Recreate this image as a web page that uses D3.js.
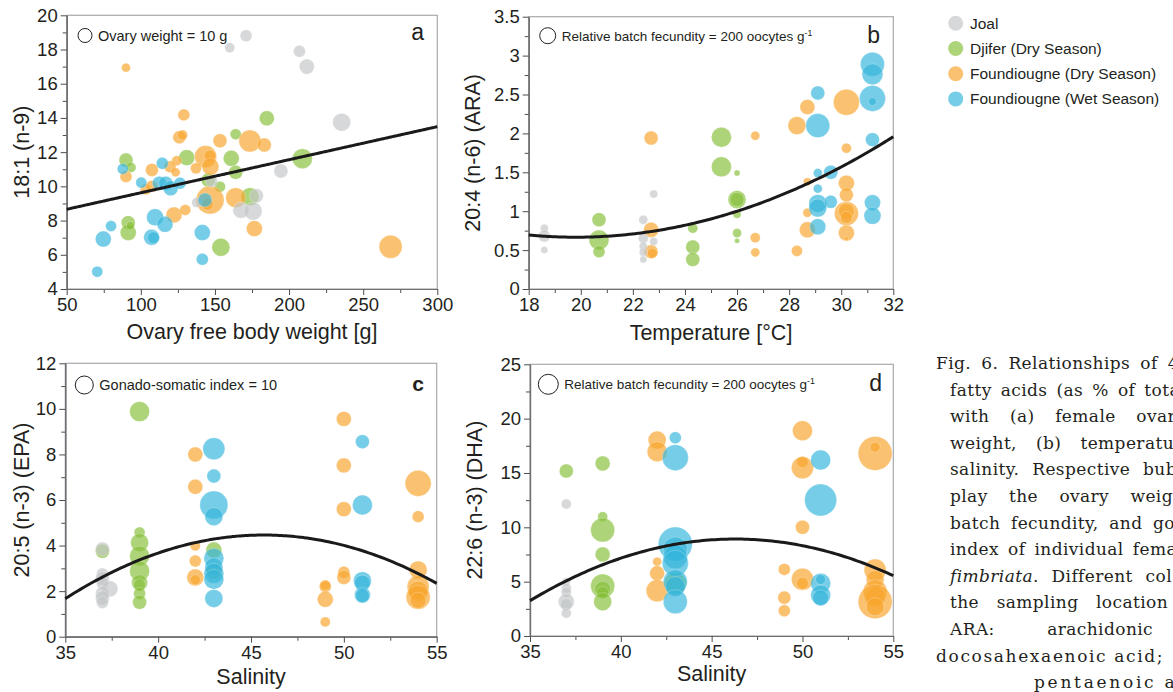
<!DOCTYPE html>
<html><head><meta charset="utf-8">
<script src="https://cdn.jsdelivr.net/npm/d3@7"></script>
<style>body{margin:0;background:#fff}svg{display:block}</style>
</head><body>
<svg id="chart" width="1173" height="692"></svg>
<script>
// ---------------- DATA ----------------
const groups = ["Joal", "Djifer (Dry Season)", "Foundiougne (Dry Season)", "Foundiougne (Wet Season)"];
const groupColors = ["#c3c5c7", "#86c03a", "#f8a52c", "#35b6dc"];
const drawOrder = [1, 2, 0, 3];

// Panel a: [ovary free body weight g, 18:1(n-9) %, ovary weight g]
const aJoal = [[171,18.8,7.3],[160,18.1,5.1],[207,17.9,7.3],[212,17.0,11.5],[235.5,13.75,16.5],[194.5,10.9,10],[137.7,9.05,5.1],[178,9.45,10],[167.5,8.6,13],[175.7,8.55,16.5],[147.8,10.3,7.3]];
const aDjifer = [[185,13.98,11.5],[164,13.05,6.2],[131,11.68,13],[161,11.64,13],[209,11.62,20.4],[164,10.82,10],[90,11.54,10],[93.4,11.1,5.1],[145.5,10.37,10],[153.4,9.98,6.2],[173.6,9.4,16.5],[91.5,7.88,10],[91.5,7.3,13],[93,7.7,3.3],[154,6.44,16.5]];
const aFdDry = [[90,16.94,4.1],[129,14.18,7.3],[126,12.87,8.6],[128.2,13.0,5.1],[153.4,12.67,10],[173.6,12.65,24.7],[183.3,12.42,10],[143.7,11.74,24.7],[146.7,11.78,7.3],[147,11.15,14.7],[124.2,11.5,5.1],[119.7,11.15,7.3],[123.5,10.82,4.1],[137.2,11.06,6.2],[107.5,10.96,8.6],[90,10.57,7.3],[103.3,9.83,6.2],[107.3,10.0,7.3],[146.7,9.2,40],[145,8.95,7.3],[164,9.34,20.4],[122.4,8.33,13],[130,8.62,6.2],[176.6,7.53,13],[268.5,6.47,27]];
const aFdWet = [[87.8,11.02,6.2],[114.5,11.35,7.3],[100.3,10.22,6.2],[112.5,10.18,10],[116.8,10.18,10],[120.1,9.89,11.5],[126.4,10.18,7.3],[143.3,9.2,10],[109.6,8.19,14.7],[116.3,7.78,13],[79.9,7.68,6.2],[74.7,6.92,13],[107.3,7.02,13],[108.5,7.0,7.3],[141.5,7.3,13],[141.5,5.74,7.3],[70.6,5.01,6.2]];

// Panel b: [temperature °C, 20:4(n-6) %, relative batch fecundity]
const bJoal = [[18.6,0.78,50],[18.6,0.68,113],[18.6,0.5,38],[22.4,0.89,63],[22.8,1.22,50],[22.4,0.65,78],[22.4,0.55,50],[22.4,0.47,50],[22.4,0.38,38],[22.8,0.61,50]];
const bDjifer = [[20.7,0.89,153],[20.7,0.63,313],[20.7,0.48,113],[24.3,0.78,78],[24.3,0.54,153],[24.3,0.38,153],[25.4,1.95,313],[25.4,1.57,313],[26.0,1.49,28],[26.0,1.15,253],[26.0,1.15,153],[26.0,0.96,50],[26.0,0.72,63],[26.0,0.62,20]];
const bFdDry = [[22.7,1.94,153],[22.7,0.76,176],[22.7,0.48,153],[22.75,0.46,78],[26.7,1.97,63],[26.7,0.66,78],[26.7,0.47,63],[28.3,2.1,253],[28.7,2.34,176],[28.7,1.38,50],[28.7,0.98,63],[28.7,0.76,200],[28.3,0.49,95],[30.2,2.40,528],[30.2,1.81,78],[30.2,1.36,200],[30.2,1.21,153],[30.2,0.97,450],[30.2,1.0,200],[30.2,0.92,113],[30.2,0.72,200],[30.2,0.65,12]];
const bFdWet = [[29.1,2.52,153],[29.1,2.10,450],[29.1,1.49,63],[29.6,1.50,153],[29.1,1.29,63],[29.1,1.10,253],[29.1,1.04,253],[29.6,1.12,132],[29.1,0.80,200],[31.2,2.89,450],[31.2,2.76,345],[31.2,2.45,528],[31.2,2.41,50],[31.2,1.92,153],[31.2,1.11,200],[31.2,0.94,226]];

// Panel c: [salinity, 20:5(n-3) %, gonado-somatic index]
const cJoal = [[37,3.85,6.0],[37,2.75,4.4],[37,2.55,6.0],[37,2.35,4.4],[37.4,2.1,7.9],[37,1.9,6.0],[37,1.7,6.0],[37,1.5,4.4]];
const cDjifer = [[37,3.75,6.0],[39,9.88,12.3],[39,4.58,3.7],[39,4.13,10],[39,3.54,12.3],[39,2.88,12.3],[39,2.37,7.9],[39,2.27,4.4],[39,1.9,4.4],[39,1.51,6.0],[43,3.8,7.9],[43,2.88,7.9]];
const cFdDry = [[42,8.0,6.9],[42,6.58,6.9],[42,3.98,3.1],[42,3.32,4.4],[42,2.6,8.9],[42,2.5,3.1],[50,9.56,6.9],[50,7.52,6.9],[50,5.6,6.9],[50,2.83,4.4],[50,2.6,6.0],[49,2.27,3.1],[49,2.2,4.4],[49,1.64,7.9],[49,0.65,3.1],[54,6.73,20.9],[54,5.27,4.4],[54,2.93,10],[54,2.2,14.9],[54,2.0,12.3],[54,1.73,17.8],[54,1.6,7.9]];
const cFdWet = [[43,8.25,14.9],[43,7.05,6.0],[43,5.78,24.2],[43,5.27,10],[43,3.44,12.3],[43,3.07,10],[43,2.78,12.3],[43,2.52,12.3],[43,1.68,10],[51,8.56,6.0],[51,5.78,12.3],[51,2.46,10],[51,2.35,7.9],[51,1.83,7.9],[51,1.8,6.0]];

// Panel d: [salinity, 22:6(n-3) %, relative batch fecundity]
const dJoal = [[37,12.14,50],[37,5.0,32],[37,4.39,50],[37,4.0,50],[37,3.16,128],[37,2.9,72],[37,2.09,50]];
const dDjifer = [[37,15.18,98],[39,15.88,112],[39,10.98,50],[39,9.75,288],[39,7.51,112],[39,4.6,288],[39,4.3,128],[39,4.0,72],[39,3.16,162],[43,4.8,242]];
const dFdDry = [[42,18.03,162],[42,16.96,200],[42,6.84,40],[42,5.77,112],[42,4.17,242],[50,18.89,200],[50,16.04,60],[50,15.49,242],[50,10.0,98],[50,5.22,242],[50,4.85,72],[49,6.13,72],[49,3.53,85],[49,2.33,72],[54,16.8,578],[54,17.36,50],[54,6.07,242],[54,5.2,162],[54,4.08,288],[54,3.6,200],[54,3.16,578],[54,2.7,162]];
const dFdWet = [[43,18.25,72],[43,16.41,338],[43,8.46,578],[43,8.0,288],[43,7.3,288],[43,6.69,338],[43,5.0,288],[43,4.55,200],[43,3.16,288],[51,16.19,200],[51,12.51,512],[51,4.85,200],[51,5.2,50],[51,3.77,200],[51,3.5,128]];

// fitted curves: y = c0 + c1*x + c2*x^2
const aFit = [7.694, 0.01932, 0];
const bFit = [4.065, -0.3434, 0.008673];
const cFit = [-46.588, 2.2349, -0.02446];
const dFit = [-86.428, 4.1195, -0.044495];

// tick values
const aXTicks = [50,100,150,200,250,300], aXMinor = [75,125,175,225,275];
const aYTicks = [4,6,8,10,12,14,16,18,20], aYMinor = [5,7,9,11,13,15,17,19];
const bXTicks = [18,20,22,24,26,28,30,32], bXMinor = [19,21,23,25,27,29,31];
const bYTicks = [0,0.5,1,1.5,2,2.5,3,3.5], bYMinor = [0.25,0.75,1.25,1.75,2.25,2.75,3.25];
const cXTicks = [35,40,45,50,55], cXMinor = [37.5,42.5,47.5,52.5];
const cYTicks = [0,2,4,6,8,10,12], cYMinor = [1,3,5,7,9,11];
const dXTicks = [35,40,45,50,55], dXMinor = [37.5,42.5,47.5,52.5];
const dYTicks = [0,5,10,15,20,25], dYMinor = [2.5,7.5,12.5,17.5,22.5];

// size reference bubbles
const aRef = 10, bRef = 200, cRef = 10, dRef = 200;

// ---------------- DRAW ----------------
const svg = d3.select("#chart");
const SANS = "'Liberation Sans', Arial, Helvetica, sans-serif";
const INK = "#231f20";

const panels = [
  {id:"a", box:[66.7,15.3,437.3,289], xd:[50,300], yd:[4,20], xt:aXTicks, xm:aXMinor, yt:aYTicks, ym:aYMinor,
   sets:[aJoal,aDjifer,aFdDry,aFdWet], fit:aFit, ref:aRef, refR:7, xTitle:"Ovary free body weight [g]", yTitle:"18:1 (n-9)",
   xTitleY:339, yTitleX:29, legText:["Ovary weight = 10 g"], legFs:14.5, legC:[85,35.5], letter:"a", letterPos:[424,40], letterW:"normal"},
  {id:"b", box:[528.7,16.7,893.3,289], xd:[18,32], yd:[0,3.5], xt:bXTicks, xm:bXMinor, yt:bYTicks, ym:bYMinor,
   sets:[bJoal,bDjifer,bFdDry,bFdWet], fit:bFit, ref:bRef, refR:8, xTitle:"Temperature [°C]", yTitle:"20:4 (n-6) (ARA)",
   xTitleY:340, yTitleX:480, legText:["Relative batch fecundity = 200 oocytes g","-1"], legFs:13.5, legC:[547.7,35.7], letter:"b", letterPos:[880,43], letterW:"normal"},
  {id:"c", box:[65.3,363.3,436.7,636.7], xd:[35,55], yd:[0,12], xt:cXTicks, xm:cXMinor, yt:cYTicks, ym:cYMinor,
   sets:[cJoal,cDjifer,cFdDry,cFdWet], fit:cFit, ref:cRef, refR:9, xTitle:"Salinity", yTitle:"20:5 (n-3) (EPA)",
   xTitleY:684, yTitleX:29, legText:["Gonado-somatic index = 10"], legFs:14.5, legC:[84.3,385], letter:"c", letterPos:[424,391], letterW:"bold"},
  {id:"d", box:[530,364.3,893.3,636], xd:[35,55], yd:[0,25], xt:dXTicks, xm:dXMinor, yt:dYTicks, ym:dYMinor,
   sets:[dJoal,dDjifer,dFdDry,dFdWet], fit:dFit, ref:dRef, refR:10, xTitle:"Salinity", yTitle:"22:6 (n-3) (DHA)",
   xTitleY:681, yTitleX:482, legText:["Relative batch fecundity = 200 oocytes g","-1"], legFs:13.5, legC:[548.3,384.3], letter:"d", letterPos:[882,391], letterW:"normal"}
];

function styleAxis(g, major){
  g.select(".domain").attr("stroke", "#6d6e71").attr("stroke-width", 1.2);
  g.selectAll(".tick line").attr("stroke", "#4d4d4f").attr("stroke-width", 1);
  g.selectAll(".tick text").attr("fill", INK).attr("font-family", SANS).attr("font-size", major ? 18.5 : 0);
}

panels.forEach(p => {
  const [x0,y0,x1,y1] = p.box;
  const x = d3.scaleLinear().domain(p.xd).range([x0,x1]);
  const y = d3.scaleLinear().domain(p.yd).range([y1,y0]);
  const r = d3.scaleSqrt().domain([0,p.ref]).range([0,p.refR]);
  const g = svg.append("g");

  g.append("rect").attr("x",x0).attr("y",y0).attr("width",x1-x0).attr("height",y1-y0)
    .attr("fill","none").attr("stroke","#a7a9ac").attr("stroke-width",1.2);

  const fmt = d => String(d);
  g.append("g").attr("transform",`translate(0,${y1})`)
    .call(d3.axisBottom(x).tickValues(p.xm).tickSize(4).tickFormat("").tickSizeOuter(0)).call(a=>styleAxis(a,false));
  g.append("g").attr("transform",`translate(0,${y1})`)
    .call(d3.axisBottom(x).tickValues(p.xt).tickSize(6).tickPadding(3).tickFormat(fmt).tickSizeOuter(0)).call(a=>styleAxis(a,true));
  g.append("g").attr("transform",`translate(${x0},0)`)
    .call(d3.axisLeft(y).tickValues(p.ym).tickSize(4).tickFormat("").tickSizeOuter(0)).call(a=>styleAxis(a,false));
  g.append("g").attr("transform",`translate(${x0},0)`)
    .call(d3.axisLeft(y).tickValues(p.yt).tickSize(6).tickPadding(3).tickFormat(fmt).tickSizeOuter(0)).call(a=>styleAxis(a,true));

  drawOrder.forEach(gi => {
    g.append("g").selectAll("circle").data(p.sets[gi]).join("circle")
      .attr("cx", d => x(d[0])).attr("cy", d => y(d[1])).attr("r", d => r(d[2]))
      .attr("fill", groupColors[gi]).attr("fill-opacity", 0.68)
      .attr("stroke", "#ffffff").attr("stroke-opacity", 0.35).attr("stroke-width", 0.7);
  });

  const c = p.fit;
  const xs = d3.range(p.xd[0], p.xd[1] + 1e-9, (p.xd[1]-p.xd[0])/120);
  g.append("path").datum(xs)
    .attr("d", d3.line().x(v => x(v)).y(v => y(c[0] + c[1]*v + c[2]*v*v)).curve(d3.curveBasis))
    .attr("fill","none").attr("stroke","#1a1a1a").attr("stroke-width",3);

  g.append("circle").attr("cx",p.legC[0]).attr("cy",p.legC[1]).attr("r",r(p.ref))
    .attr("fill","none").attr("stroke","#231f20").attr("stroke-width",1);
  const lt = g.append("text").attr("x", p.legC[0] + r(p.ref) + 6).attr("y", p.legC[1] + 5)
    .attr("font-family",SANS).attr("font-size",p.legFs).attr("fill",INK).text(p.legText[0]);
  if (p.legText[1]) lt.append("tspan").attr("dy",-5).attr("font-size",p.legFs*0.65).text(p.legText[1]);

  g.append("text").attr("x",p.letterPos[0]).attr("y",p.letterPos[1]).attr("text-anchor","end")
    .attr("font-family",SANS).attr("font-size",p.letterW==="bold"?21:23).attr("font-weight",p.letterW).attr("fill",INK).text(p.letter);

  g.append("text").attr("x",(x0+x1)/2).attr("y",p.xTitleY).attr("text-anchor","middle")
    .attr("font-family",SANS).attr("font-size",21.5).attr("fill",INK).text(p.xTitle);
  g.append("text").attr("transform",`translate(${p.yTitleX},${(y0+y1)/2}) rotate(-90)`).attr("text-anchor","middle")
    .attr("font-family",SANS).attr("font-size",21.5).attr("fill",INK).text(p.yTitle);
});

// group legend
const lg = svg.append("g");
groups.forEach((name,i) => {
  const cy = 23.3 + i*25.2;
  lg.append("circle").attr("cx",955.7).attr("cy",cy).attr("r",7.5).attr("fill",groupColors[i]).attr("fill-opacity",0.68);
  lg.append("text").attr("x",970).attr("y",cy+5.5).attr("font-family",SANS).attr("font-size",15.5).attr("fill",INK).text(name);
});

// caption (justified column, clipped at the right edge like the source); mode j = word-spacing, n = letter spread
const captionLines = [
  [[["Fig. 6. Relationships of 4",0]], 936, 1179, "j"],
  [[["fatty acids (as % of tota",0]], 950, 1180, "j"],
  [[["with (a) female ovar",0]], 950, 1176, "j"],
  [[["weight, (b) temperatu",0]], 950, 1174, "j"],
  [[["salinity. Respective bub",0]], 950, 1177, "j"],
  [[["play the ovary weig",0]], 950, 1173, "j"],
  [[["batch fecundity, and go",0]], 950, 1175, "j"],
  [[["index of individual fema",0]], 950, 1177, "j"],
  [[["fimbriata",1],[". Different col",0]], 950, 1172, "j"],
  [[["the sampling location",0]], 950, 1168, "j"],
  [[["ARA:  arachidonic",0]], 950, 1153, "j"],
  [[["docosahexaenoic acid;",0]], 936, 1163, "n"],
  [[["pentaenoic a",0]], 1034, 1175, "n"]
];
const cap = svg.append("g");
captionLines.forEach((ln,i) => {
  const t = cap.append("text").attr("x",ln[1]).attr("y",369 + i*26.6)
    .attr("font-family","'DejaVu Serif', serif").attr("font-size",17).attr("letter-spacing",0.4).attr("fill",INK)
    .attr("xml:space","preserve");
  ln[0].forEach(part => t.append("tspan").attr("font-style", part[1] ? "italic" : "normal").text(part[0]));
  const natural = t.node().getComputedTextLength();
  const target = ln[2] - ln[1];
  const full = ln[0].map(p=>p[0]).join("");
  const spaces = (full.match(/ /g) || []).length;
  if (ln[3] === "j" && natural < target && spaces > 0) {
    t.attr("word-spacing", (target - natural) / spaces);
  } else if (natural > target) {
    t.attr("textLength", target).attr("lengthAdjust","spacingAndGlyphs");
  } else {
    t.attr("textLength", target).attr("lengthAdjust","spacing");
  }
});
</script>
</body></html>
